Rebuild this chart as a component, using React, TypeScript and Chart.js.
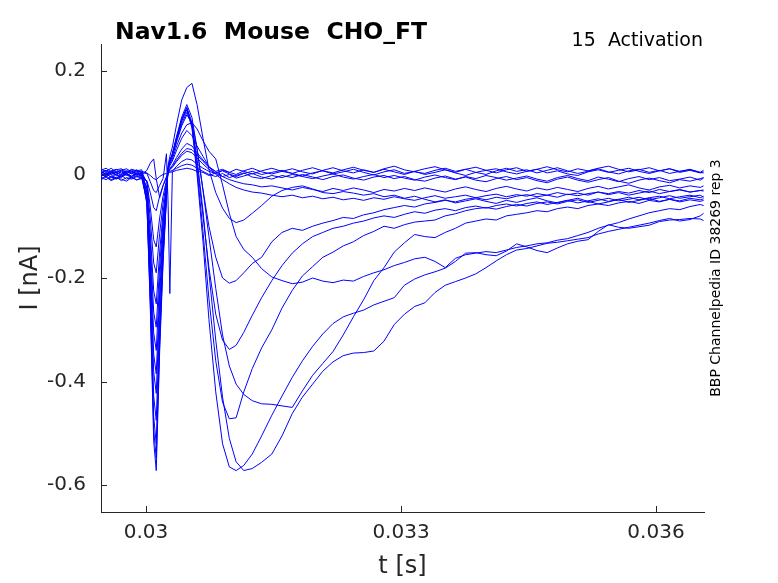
import React, { useEffect, useRef } from "react";
import { Chart, registerables } from "chart.js";

Chart.register(...registerables);

// time samples [s]
const times = [
  0.02947, 0.02953, 0.02959, 0.02965, 0.02971, 0.02977, 0.02983, 0.02989, 0.02995,
  0.03001, 0.03005, 0.03009, 0.03012, 0.03016, 0.0302, 0.03024, 0.03026, 0.03028,
  0.03031, 0.03036, 0.03042, 0.03048, 0.03054, 0.0306, 0.03067, 0.03074, 0.03082,
  0.0309, 0.03098, 0.03106, 0.03115, 0.03125, 0.03136,
  0.03148, 0.0316, 0.03172, 0.03184, 0.03196, 0.03208, 0.0322, 0.03232, 0.03244, 0.03256,
  0.03268, 0.0328, 0.03292, 0.03304, 0.03316, 0.03328, 0.0334, 0.03352, 0.03364, 0.03376,
  0.03388, 0.034, 0.03412, 0.03424, 0.03436, 0.03448, 0.0346, 0.03472, 0.03484, 0.03496,
  0.03508, 0.0352, 0.03532, 0.03544, 0.03556, 0.03568, 0.0358, 0.03592, 0.03604, 0.03616,
  0.03628, 0.0364, 0.03652, 0.03656,
];

// current traces [nA]
const trace01 = [
  0.004, 0.008, 0.002, 0.006, -0.003, 0.005, 0.009, 0.003, 0.006,
  0.003, -0.002, -0.008, -0.01, -0.004, 0.0, 0.002, 0.003, 0.004, 0.005, 0.008, 0.01, 0.012,
  0.01, 0.006, 0.004, -0.002, 0.003, 0.007, 0.001, -0.004, 0.002, 0.006, 0.0,
  0.004, 0.008, 0.002, -0.003, 0.003, 0.007, 0.001, 0.005, 0.01, 0.004,
  -0.001, 0.005, 0.009, 0.002, 0.006, 0.0, 0.004, 0.009, 0.003, -0.002,
  0.004, 0.008, 0.011, 0.005, 0.001, 0.006, 0.01, 0.003, 0.007, 0.001,
  -0.002, 0.005, 0.009, 0.004, 0.008, 0.012, 0.006, 0.002, 0.007, 0.011,
  0.004, 0.008, 0.003, 0.005,
];
const trace02 = [
  -0.004, 0.002, -0.006, 0.001, 0.005, -0.002, 0.003, -0.005, 0.0,
  0.008, 0.022, 0.03, -0.008, -0.045, -0.022, -0.004, 0.004, 0.006, 0.008, 0.012, 0.017, 0.02,
  0.018, 0.012, 0.006, 0.0, -0.004, 0.002, -0.006, -0.002, 0.003, -0.005, -0.008,
  -0.002, -0.006, 0.0, -0.004, -0.008, -0.003, 0.001, -0.005, -0.009, -0.004,
  0.0, -0.006, -0.002, -0.007, -0.011, -0.005, -0.001, -0.006, -0.01, -0.004,
  -0.008, -0.002, -0.006, -0.011, -0.007, -0.003, -0.009, -0.013, -0.006, -0.002,
  -0.008, -0.012, -0.005, -0.009, -0.014, -0.008, -0.004, -0.01, -0.006, -0.012,
  -0.009, -0.005, -0.011, -0.007,
];
const trace03 = [
  0.01, 0.006, 0.012, 0.004, 0.008, 0.011, 0.005, 0.009, 0.003,
  0.002, -0.014, -0.031, -0.035, -0.021, -0.008, 0.04, -0.06, -0.23, 0.006, 0.016, 0.025, 0.03,
  0.028, 0.02, 0.012, 0.006, 0.002, 0.008, 0.004, 0.01, 0.006, 0.001, 0.007,
  0.012, 0.006, 0.002, 0.008, 0.013, 0.007, 0.003, 0.009, 0.014, 0.008,
  0.004, 0.01, 0.005, 0.0, 0.006, 0.011, 0.015, 0.009, 0.004, 0.01,
  0.014, 0.008, 0.003, 0.009, 0.013, 0.006, 0.01, 0.015, 0.009, 0.005,
  0.011, 0.007, 0.012, 0.016, 0.01, 0.005, 0.009, 0.013, 0.007, 0.011,
  0.006, 0.01, 0.004, 0.008,
];
const trace04 = [
  -0.008, -0.003, -0.01, -0.005, -0.012, -0.006, -0.009, -0.004, -0.007,
  -0.012, -0.035, -0.064, -0.07, -0.042, -0.021, -0.006, 0.005, 0.009, 0.014, 0.025, 0.037, 0.045,
  0.042, 0.032, 0.02, 0.01, 0.002, -0.004, 0.0, -0.007, -0.003, 0.002, -0.005,
  -0.009, -0.002, -0.006, 0.0, -0.005, -0.01, -0.004, -0.001, -0.007, -0.011,
  -0.005, -0.002, -0.008, -0.004, -0.01, -0.013, -0.007, -0.003, -0.009, -0.005,
  -0.011, -0.014, -0.008, -0.004, -0.01, -0.006, -0.012, -0.016, -0.009, -0.005,
  -0.011, -0.015, -0.01, -0.006, -0.013, -0.017, -0.011, -0.007, -0.012, -0.016,
  -0.01, -0.013, -0.008, -0.006,
];
const trace05 = [
  0.001, -0.005, 0.004, -0.002, 0.007, 0.0, -0.004, 0.003, -0.001,
  -0.014, -0.063, -0.126, -0.14, -0.084, -0.042, -0.011, 0.005, 0.01, 0.015, 0.028, 0.041, 0.05,
  0.048, 0.038, 0.025, 0.014, 0.006, 0.01, 0.004, 0.0, 0.007, 0.012, 0.005,
  0.001, 0.006, 0.011, 0.005, 0.001, 0.008, 0.013, 0.007, 0.003, 0.009,
  0.004, 0.011, 0.016, 0.009, 0.005, 0.002, 0.008, 0.012, 0.006, 0.01,
  0.004, 0.0, 0.007, 0.012, 0.006, 0.009, 0.003, 0.008, 0.013, 0.007,
  0.002, 0.006, 0.011, 0.005, 0.001, 0.007, 0.01, 0.004, 0.008, 0.002,
  0.006, 0.009, 0.004, 0.003,
];
const trace06 = [
  0.006, 0.0, 0.007, 0.01, 0.002, 0.008, 0.001, 0.006, 0.004,
  -0.015, -0.086, -0.171, -0.19, -0.114, -0.057, -0.015, 0.006, 0.012, 0.018, 0.033, 0.049, 0.06,
  0.055, 0.042, 0.028, 0.015, 0.005, -0.004, -0.01, -0.014, -0.018, -0.02, -0.024,
  -0.022, -0.026, -0.03, -0.025, -0.029, -0.033, -0.027, -0.031, -0.026, -0.03,
  -0.035, -0.029, -0.032, -0.027, -0.031, -0.026, -0.03, -0.034, -0.028, -0.024,
  -0.029, -0.033, -0.027, -0.023, -0.028, -0.032, -0.026, -0.03, -0.025, -0.029,
  -0.033, -0.027, -0.023, -0.028, -0.024, -0.02, -0.026, -0.03, -0.024, -0.021,
  -0.026, -0.022, -0.025, -0.022,
];
const trace07 = [
  -0.002, 0.004, -0.001, -0.007, 0.0, 0.003, -0.006, 0.002, -0.003,
  -0.025, -0.113, -0.225, -0.25, -0.15, -0.075, -0.02, 0.009, 0.017, 0.026, 0.047, 0.07, 0.085,
  0.075, 0.055, 0.035, 0.015, 0.0, -0.01, -0.018, -0.025, -0.03, -0.034, -0.036,
  -0.04, -0.043, -0.04, -0.045, -0.042, -0.047, -0.044, -0.049, -0.046, -0.05,
  -0.045, -0.048, -0.043, -0.047, -0.05, -0.045, -0.041, -0.046, -0.043, -0.04,
  -0.045, -0.041, -0.038, -0.043, -0.039, -0.042, -0.037, -0.04, -0.035, -0.039,
  -0.036, -0.04, -0.034, -0.037, -0.033, -0.036, -0.031, -0.035, -0.029, -0.033,
  -0.03, -0.034, -0.031, -0.032,
];
const trace08 = [
  0.003, -0.003, 0.005, 0.0, -0.004, 0.004, 0.007, -0.001, 0.002,
  -0.028, -0.133, -0.266, -0.295, -0.177, -0.089, -0.024, 0.01, 0.02, 0.03, 0.055, 0.08, 0.096,
  0.1, 0.088, 0.065, 0.045, 0.03, -0.02, -0.075, -0.12, -0.145, -0.16, -0.182,
  -0.198, -0.205, -0.211, -0.208, -0.2, -0.206, -0.209, -0.204, -0.206, -0.197,
  -0.19, -0.184, -0.176, -0.17, -0.163, -0.16, -0.168, -0.18, -0.162, -0.155,
  -0.152, -0.149, -0.151, -0.146, -0.141, -0.138, -0.134, -0.132, -0.127, -0.124,
  -0.118, -0.112, -0.104, -0.098, -0.093, -0.086, -0.08, -0.074, -0.07, -0.066,
  -0.068, -0.062, -0.058, -0.06,
];
const trace09 = [
  -0.006, -0.01, -0.004, -0.008, -0.002, -0.009, -0.005, -0.011, -0.006,
  -0.034, -0.153, -0.306, -0.34, -0.204, -0.102, -0.027, 0.012, 0.023, 0.035, 0.063, 0.094, 0.115,
  0.1, 0.05, -0.03, -0.12, -0.22, -0.31, -0.37, -0.405, -0.425, -0.437, -0.443,
  -0.444, -0.447, -0.45, -0.418, -0.388, -0.365, -0.342, -0.31, -0.275, -0.242,
  -0.205, -0.18, -0.15, -0.132, -0.116, -0.12, -0.122, -0.112, -0.104, -0.094,
  -0.09, -0.086, -0.088, -0.08, -0.077, -0.074, -0.07, -0.072, -0.066, -0.063,
  -0.066, -0.06, -0.057, -0.06, -0.055, -0.052, -0.056, -0.05, -0.053, -0.048,
  -0.051, -0.046, -0.049, -0.047,
];
const trace10 = [
  0.008, 0.012, 0.005, 0.009, 0.011, 0.004, 0.01, 0.007, 0.009,
  -0.038, -0.173, -0.347, -0.385, -0.231, -0.116, -0.031, 0.012, 0.024, 0.036, 0.066, 0.098, 0.12,
  0.095, 0.03, -0.07, -0.19, -0.32, -0.43, -0.51, -0.555, -0.572, -0.568, -0.556,
  -0.54, -0.505, -0.462, -0.43, -0.405, -0.38, -0.362, -0.35, -0.345, -0.344,
  -0.341, -0.322, -0.29, -0.27, -0.255, -0.248, -0.228, -0.214, -0.207, -0.2,
  -0.192, -0.18, -0.167, -0.155, -0.146, -0.143, -0.138, -0.133, -0.131, -0.128,
  -0.125, -0.122, -0.115, -0.11, -0.106, -0.102, -0.098, -0.094, -0.089, -0.085,
  -0.09, -0.087, -0.08, -0.075,
];
const trace11 = [
  0.0, -0.004, 0.003, -0.001, -0.006, 0.002, -0.003, 0.001, -0.002,
  -0.042, -0.19, -0.381, -0.423, -0.254, -0.127, -0.034, 0.013, 0.025, 0.038, 0.069, 0.103, 0.125,
  0.09, 0.0, -0.13, -0.28, -0.42, -0.52, -0.565, -0.572, -0.562, -0.54, -0.505,
  -0.465, -0.428, -0.392, -0.36, -0.332, -0.308, -0.288, -0.275, -0.268, -0.262,
  -0.252, -0.245, -0.238, -0.214, -0.202, -0.194, -0.188, -0.181, -0.168, -0.152,
  -0.151, -0.155, -0.157, -0.148, -0.134, -0.14, -0.147, -0.151, -0.142, -0.134,
  -0.129, -0.126, -0.11, -0.097, -0.102, -0.104, -0.101, -0.098, -0.091, -0.088,
  -0.087, -0.085, -0.086, -0.089,
];
const trace12 = [
  -0.01, -0.005, -0.012, -0.007, -0.009, -0.013, -0.006, -0.01, -0.008,
  -0.048, -0.214, -0.428, -0.475, -0.285, -0.143, -0.038, 0.013, 0.026, 0.038, 0.07, 0.105, 0.128,
  0.095, 0.01, -0.11, -0.24, -0.36, -0.44, -0.472, -0.47, -0.42, -0.375, -0.335,
  -0.3, -0.258, -0.224, -0.196, -0.178, -0.16, -0.15, -0.138, -0.13, -0.118,
  -0.11, -0.1, -0.104, -0.097, -0.092, -0.09, -0.088, -0.08, -0.076, -0.07,
  -0.066, -0.064, -0.067, -0.062, -0.058, -0.061, -0.056, -0.053, -0.057, -0.052,
  -0.049, -0.054, -0.05, -0.046, -0.051, -0.048, -0.044, -0.049, -0.045, -0.041,
  -0.046, -0.043, -0.04, -0.044,
];
const trace13 = [
  0.005, 0.001, 0.007, 0.003, 0.0, 0.006, 0.002, 0.008, 0.004,
  -0.052, -0.234, -0.468, -0.52, -0.312, -0.156, -0.042, 0.013, 0.026, 0.039, 0.072, 0.107, 0.13,
  0.1, 0.02, -0.08, -0.18, -0.27, -0.32, -0.338, -0.33, -0.305, -0.272, -0.238,
  -0.205, -0.176, -0.152, -0.134, -0.12, -0.112, -0.104, -0.1, -0.094, -0.09,
  -0.084, -0.08, -0.083, -0.077, -0.072, -0.075, -0.069, -0.066, -0.07, -0.064,
  -0.061, -0.065, -0.06, -0.057, -0.061, -0.056, -0.053, -0.058, -0.054, -0.05,
  -0.055, -0.051, -0.047, -0.052, -0.048, -0.044, -0.049, -0.045, -0.042, -0.047,
  -0.043, -0.04, -0.045, -0.042,
];
const trace14 = [
  -0.003, 0.001, -0.005, -0.009, -0.004, 0.0, -0.007, -0.002, -0.005,
  -0.055, -0.247, -0.493, -0.548, -0.329, -0.164, -0.044, 0.014, 0.027, 0.041, 0.074, 0.111, 0.135,
  0.11, 0.05, -0.03, -0.1, -0.16, -0.2, -0.21, -0.205, -0.19, -0.172, -0.16,
  -0.13, -0.112, -0.104, -0.108, -0.1, -0.094, -0.089, -0.083, -0.085, -0.078,
  -0.074, -0.068, -0.064, -0.06, -0.063, -0.057, -0.054, -0.05, -0.053, -0.048,
  -0.045, -0.049, -0.044, -0.047, -0.042, -0.039, -0.043, -0.04, -0.044, -0.038,
  -0.041, -0.037, -0.034, -0.039, -0.035, -0.04, -0.036, -0.032, -0.037, -0.033,
  -0.029, -0.034, -0.031, -0.03,
];
const trace15 = [
  0.002, 0.007, 0.0, 0.004, 0.009, 0.002, 0.005, 0.0, 0.003,
  -0.057, -0.257, -0.515, -0.572, -0.343, -0.172, -0.046, 0.018, 0.035, 0.053, 0.097, 0.144, 0.168,
  0.176, 0.135, 0.07, 0.01, -0.035, -0.065, -0.085, -0.093, -0.088, -0.075, -0.06,
  -0.042, -0.031, -0.025, -0.022, -0.028, -0.035, -0.037, -0.033, -0.036, -0.04,
  -0.037, -0.043, -0.04, -0.046, -0.042, -0.048, -0.053, -0.049, -0.055, -0.051,
  -0.047, -0.052, -0.056, -0.05, -0.054, -0.049, -0.045, -0.051, -0.055, -0.05,
  -0.046, -0.052, -0.057, -0.053, -0.048, -0.054, -0.05, -0.046, -0.052, -0.048,
  -0.053, -0.049, -0.052, -0.05,
];

const traces = [
  trace01, trace02, trace03, trace04, trace05, trace06, trace07, trace08,
  trace09, trace10, trace11, trace12, trace13, trace14, trace15,
];

const xTicks = [0.03, 0.033, 0.036];
const yTicks = [-0.6, -0.4, -0.2, 0, 0.2];
const xRange = [0.02947, 0.036565];
const yRange = [-0.652, 0.252];

const titleText = "Nav1.6  Mouse  CHO_FT";
const protocolText = "15  Activation";
const sideText = "BBP Channelpedia ID 38269 rep 3";
const xTitle = "t [s]";
const yTitle = "I [nA]";

const FONT = '"DejaVu Sans", "Liberation Sans", sans-serif';
const AXIS_COLOR = "#262626";

const decorPlugin = {
  id: "decor",
  afterDraw(chart: any) {
    const { ctx, chartArea, scales } = chart;
    ctx.save();
    ctx.strokeStyle = AXIS_COLOR;
    ctx.lineWidth = 1;
    const tl = 6;
    xTicks.forEach((v) => {
      const px = Math.round(scales.x.getPixelForValue(v)) + 0.5;
      ctx.beginPath();
      ctx.moveTo(px, chartArea.bottom);
      ctx.lineTo(px, chartArea.bottom - tl);
      ctx.stroke();
    });
    yTicks.forEach((v) => {
      const py = Math.round(scales.y.getPixelForValue(v)) + 0.5;
      ctx.beginPath();
      ctx.moveTo(chartArea.left, py);
      ctx.lineTo(chartArea.left + tl, py);
      ctx.stroke();
    });
    ctx.fillStyle = "#000000";
    ctx.textBaseline = "middle";
    ctx.textAlign = "left";
    ctx.font = `bold 23.5px ${FONT}`;
    ctx.fillText(titleText, 115, 33);
    ctx.textAlign = "right";
    ctx.font = `19px ${FONT}`;
    ctx.fillText(protocolText, 703, 41);
    ctx.translate(716, 278);
    ctx.rotate(-Math.PI / 2);
    ctx.textAlign = "center";
    ctx.font = `14px ${FONT}`;
    ctx.fillText(sideText, 0, 0);
    ctx.restore();
  },
};

export default function App() {
  const ref = useRef<HTMLCanvasElement | null>(null);

  useEffect(() => {
    if (!ref.current) return;
    const datasets = traces.map((tr, k) => ({
      label: `trace ${k + 1}`,
      data: times.map((t, i) => ({ x: t, y: tr[i] })),
      borderColor: "#0000ff",
      borderWidth: 1,
      pointRadius: 0,
      tension: 0,
      fill: false,
    }));
    const chart = new Chart(ref.current, {
      type: "line",
      data: { datasets },
      options: {
        animation: false,
        responsive: false,
        events: [],
        layout: { padding: { top: 44, right: 74, bottom: 0, left: 0 } },
        plugins: {
          legend: { display: false },
          tooltip: { enabled: false },
          title: { display: false },
        },
        scales: {
          x: {
            type: "linear",
            min: xRange[0],
            max: xRange[1],
            afterBuildTicks: (s: any) => {
              s.ticks = xTicks.map((v) => ({ value: v }));
            },
            afterFit: (s: any) => {
              s.height = 71;
            },
            ticks: {
              callback: (v: any) => String(v),
              font: { family: FONT, size: 20 },
              color: AXIS_COLOR,
              padding: 9,
              maxRotation: 0,
              autoSkip: false,
            },
            grid: { drawOnChartArea: false, drawTicks: false },
            border: { display: true, color: AXIS_COLOR, width: 1 },
            title: {
              display: true,
              text: xTitle,
              font: { family: FONT, size: 24 },
              color: AXIS_COLOR,
              padding: { top: 0, bottom: 2 },
            },
          },
          y: {
            type: "linear",
            min: yRange[0],
            max: yRange[1],
            afterBuildTicks: (s: any) => {
              s.ticks = yTicks.map((v) => ({ value: v }));
            },
            afterFit: (s: any) => {
              s.width = 101;
            },
            ticks: {
              callback: (v: any) => String(v),
              font: { family: FONT, size: 20 },
              color: AXIS_COLOR,
              padding: 15,
              autoSkip: false,
            },
            grid: { drawOnChartArea: false, drawTicks: false },
            border: { display: true, color: AXIS_COLOR, width: 1 },
            title: {
              display: true,
              text: yTitle,
              font: { family: FONT, size: 24 },
              color: AXIS_COLOR,
              padding: { top: 16, bottom: 0 },
            },
          },
        },
      },
      plugins: [decorPlugin],
    } as any);
    return () => chart.destroy();
  }, []);

  return (
    <div style={{ position: "fixed", left: 0, top: 0, width: 778, height: 583, background: "#ffffff" }}>
      <canvas ref={ref} width={778} height={583} style={{ display: "block", width: 778, height: 583 }} />
    </div>
  );
}
